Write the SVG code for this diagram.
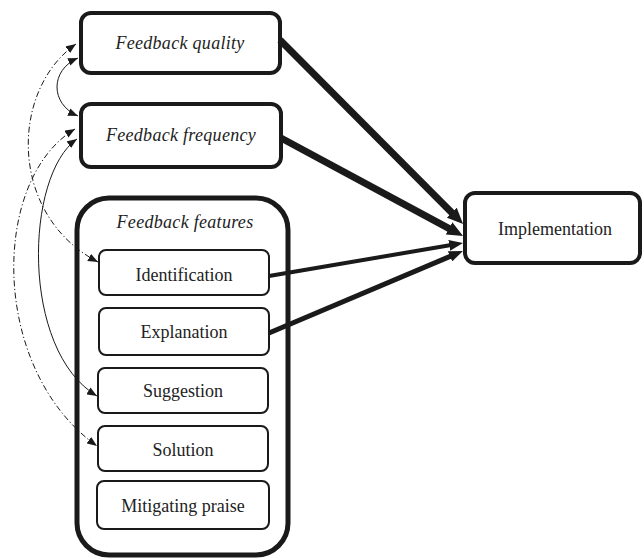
<svg xmlns="http://www.w3.org/2000/svg" width="643" height="558" viewBox="0 0 643 558">
<style>
.box{fill:#fff;stroke:#1a1a1a;}
.thick{stroke-width:4;}
.thin{stroke-width:2;}
.t{font-family:"Liberation Serif","Times New Roman",serif;font-size:18px;fill:#222;text-anchor:middle;}
.i{font-style:italic;}
.conn{fill:none;stroke:#1a1a1a;}
.dd{stroke-dasharray:6,2.5,1.2,2.5;}
</style>
<defs>
<marker id="ah" viewBox="0 0 10 8" refX="10" refY="4" markerWidth="10" markerHeight="8" markerUnits="userSpaceOnUse" orient="auto-start-reverse"><path d="M0,0 L10,4 L0,8 z" fill="#1a1a1a"/></marker>
<marker id="big" viewBox="0 0 16 14" refX="4" refY="7" markerWidth="16" markerHeight="14" markerUnits="userSpaceOnUse" orient="auto"><path d="M0,0 L16,7 L0,14 z" fill="#1a1a1a"/></marker>
<marker id="med" viewBox="0 0 14 11" refX="2" refY="5.5" markerWidth="14" markerHeight="11" markerUnits="userSpaceOnUse" orient="auto"><path d="M0,0 L14,5.5 L0,11 z" fill="#1a1a1a"/></marker>
</defs>
<g id="feedback-quality">
<rect class="box thick" x="81" y="13" width="199" height="60" rx="10"/>
<text class="t i" x="180" y="49" letter-spacing="0.3">Feedback quality</text>
</g>
<g id="feedback-frequency">
<rect class="box thick" x="81" y="104" width="200" height="63" rx="10"/>
<text class="t i" x="181" y="141" letter-spacing="0.3">Feedback frequency</text>
</g>
<g id="feedback-features">
<rect class="box" x="77" y="198" width="211" height="357" rx="32" stroke-width="5"/>
<text class="t i" x="185" y="228" letter-spacing="0.3">Feedback features</text>
</g>
<g id="identification">
<rect class="box thin" x="99" y="250" width="170" height="45" rx="7"/>
<text class="t" x="184" y="281">Identification</text>
</g>
<g id="explanation">
<rect class="box thin" x="99" y="308" width="170" height="47" rx="7"/>
<text class="t" x="184" y="338">Explanation</text>
</g>
<g id="suggestion">
<rect class="box thin" x="98" y="368" width="170" height="45" rx="7"/>
<text class="t" x="183" y="397">Suggestion</text>
</g>
<g id="solution">
<rect class="box thin" x="98" y="426" width="170" height="45" rx="7"/>
<text class="t" x="183" y="456">Solution</text>
</g>
<g id="mitigating-praise">
<rect class="box thin" x="97" y="481" width="172" height="48" rx="7"/>
<text class="t" x="183" y="512">Mitigating praise</text>
</g>
<g id="implementation">
<rect class="box thick" x="465" y="193" width="175" height="70" rx="10"/>
<text class="t" x="555" y="235">Implementation</text>
</g>
<g id="connectors">
<line class="conn" x1="280" y1="40" x2="454.6" y2="215.5" stroke-width="7" marker-end="url(#big)"/>
<line class="conn" x1="281" y1="138" x2="452.5" y2="230.3" stroke-width="7" marker-end="url(#big)"/>
<line class="conn" x1="269" y1="276" x2="451.2" y2="245" stroke-width="4" marker-end="url(#med)"/>
<line class="conn" x1="269" y1="333" x2="451.9" y2="255.6" stroke-width="5" marker-end="url(#med)"/>
<path class="conn" d="M78,58 C50,70 50,104 78,116" stroke-width="1" marker-start="url(#ah)" marker-end="url(#ah)"/>
<path class="conn dd" d="M76,44 C10,90 8,215 98,262" stroke-width="1" marker-start="url(#ah)" marker-end="url(#ah)"/>
<path class="conn dd" d="M75,129 C-10,180 -10,370 97,446" stroke-width="1" marker-start="url(#ah)" marker-end="url(#ah)"/>
<path class="conn" d="M77,139 C25,175 20,350 97,396" stroke-width="1" marker-start="url(#ah)" marker-end="url(#ah)"/>
</g>
</svg>
